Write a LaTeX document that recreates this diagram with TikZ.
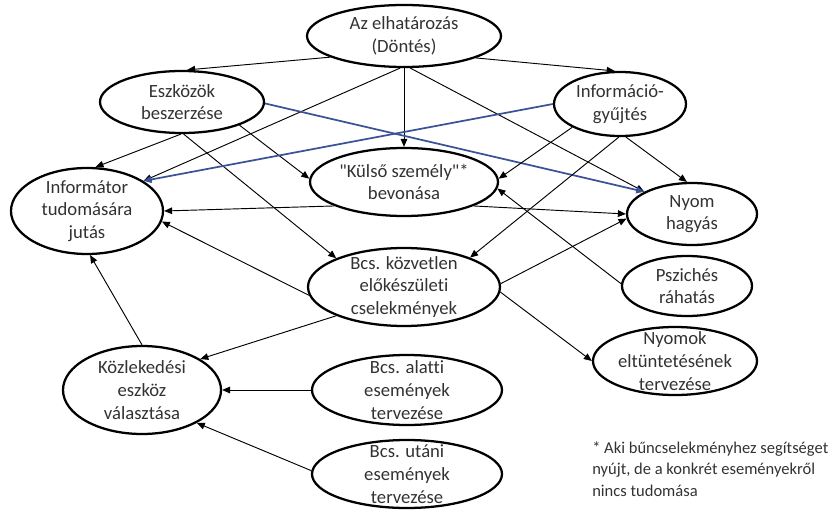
\documentclass[tikz,border=0pt]{standalone}
\usepackage{fontspec}
\setmainfont{Carlito}[Ligatures={TeXOff,CommonOff}]
\usetikzlibrary{shapes.geometric,arrows.meta}
\definecolor{edgeblue}{RGB}{58,82,150}
\definecolor{txt}{RGB}{50,50,50}
\begin{document}
\begin{tikzpicture}[x=0.75pt,y=-0.75pt,
  ell/.style n args={2}{ellipse, draw, line width=1.7pt, inner sep=0pt,
    minimum width=#1*0.75pt, minimum height=#2*0.75pt},
  lbl/.style={align=center, font=\fontsize{14}{17}\selectfont, text=txt, inner sep=0pt},
  note/.style={align=left, font=\fontsize{12.4}{16}\selectfont, text=txt, inner sep=0pt},
  arr/.style={-{Triangle[length=6pt,width=5pt]}, line width=0.7pt},
  barr/.style={arr, draw=edgeblue, line width=1.3pt}
]
\useasboundingbox (0,0) rectangle (831,513);

\node[ell={194}{62}, label={[lbl]center:{Az elhatározás\\(Döntés)}}] (dontes) at (404,36) {};
\node[ell={164}{62}, label={[lbl]center:{Eszközök\\beszerzése}}] (eszk) at (182,102) {};
\node[ell={132}{64}, label={[lbl]center:{Információ-\\gyűjtés}}] (info) at (620,104) {};
\node[ell={188}{68}, label={[lbl]center:{"Külső személy"*\\bevonása}}] (kulso) at (404,182) {};
\node[ell={152}{86}, label={[lbl]center:{Informátor\\tudomására\\jutás}}] (inf) at (87,211) {};
\node[ell={130}{62}, label={[lbl]center:{Nyom\\hagyás}}] (nyom) at (692,214) {};
\node[ell={192}{78}, label={[lbl]center:{Bcs. közvetlen\\előkészületi\\cselekmények}}] (bcsk) at (404,287) {};
\node[ell={130}{60}, label={[lbl]center:{Pszichés\\ráhatás}}] (pszich) at (687,286) {};
\node[ell={164}{68}, label={[lbl]center:{Nyomok\\eltüntetésének\\tervezése}}] (nyomok) at (675,361) {};
\node[ell={158}{88}, label={[lbl]center:{Közlekedési\\eszköz\\választása}}] (kozl) at (142,390) {};
\node[ell={190}{70}, label={[lbl]center:{Bcs. alatti\\események\\tervezése}}] (alatti) at (407,390) {};
\node[ell={190}{68}, label={[lbl]center:{Bcs. utáni\\események\\tervezése}}] (utani) at (407,474) {};

\node[note, anchor=west] (fn) at (592,469) {* Aki bűncselekményhez segítséget\\nyújt, de a konkrét eseményekről\\nincs tudomása};

% from decision
\draw[arr] (dontes.196) -- (eszk.81);
\draw[arr] (dontes.343) -- (info.99);
\draw[arr] (dontes.south) -- (kulso.north);
\draw[arr] (dontes.263) -- (inf.28);
\draw[arr] (dontes.281) -- (nyom.155);
% from tools
\draw[arr] (eszk.268) -- (inf.79);
\draw[arr] (eszk.273) -- (bcsk.157);
\draw[arr] (eszk.338) -- (kulso.178);
\draw[barr] (eszk.359) -- (nyom.155);
% from information gathering
\draw[barr] (info.180) -- (inf.28);
\draw[arr] (info.206) -- (kulso.2);
\draw[arr] (info.268) -- (bcsk.24);
\draw[arr] (info.280) -- (nyom.99);
% from external person
\draw[arr] (kulso.199) -- (inf.0);
\draw[arr] (kulso.341) -- (nyom.180);
\draw[arr] (pszich.178) -- (kulso.356);
% from preparatory acts
\draw[arr] (bcsk.185) -- (inf.352);
\draw[arr] (bcsk.203) -- (kozl.28);
\draw[arr] (bcsk.2) -- (nyom.184);
\draw[arr] (bcsk.357) -- (nyomok.180);
% to transport
\draw[arr] (kozl.90) -- (inf.274);
\draw[arr] (alatti.180) -- (kozl.0);
\draw[arr] (utani.178) -- (kozl.329);
\end{tikzpicture}
\end{document}
